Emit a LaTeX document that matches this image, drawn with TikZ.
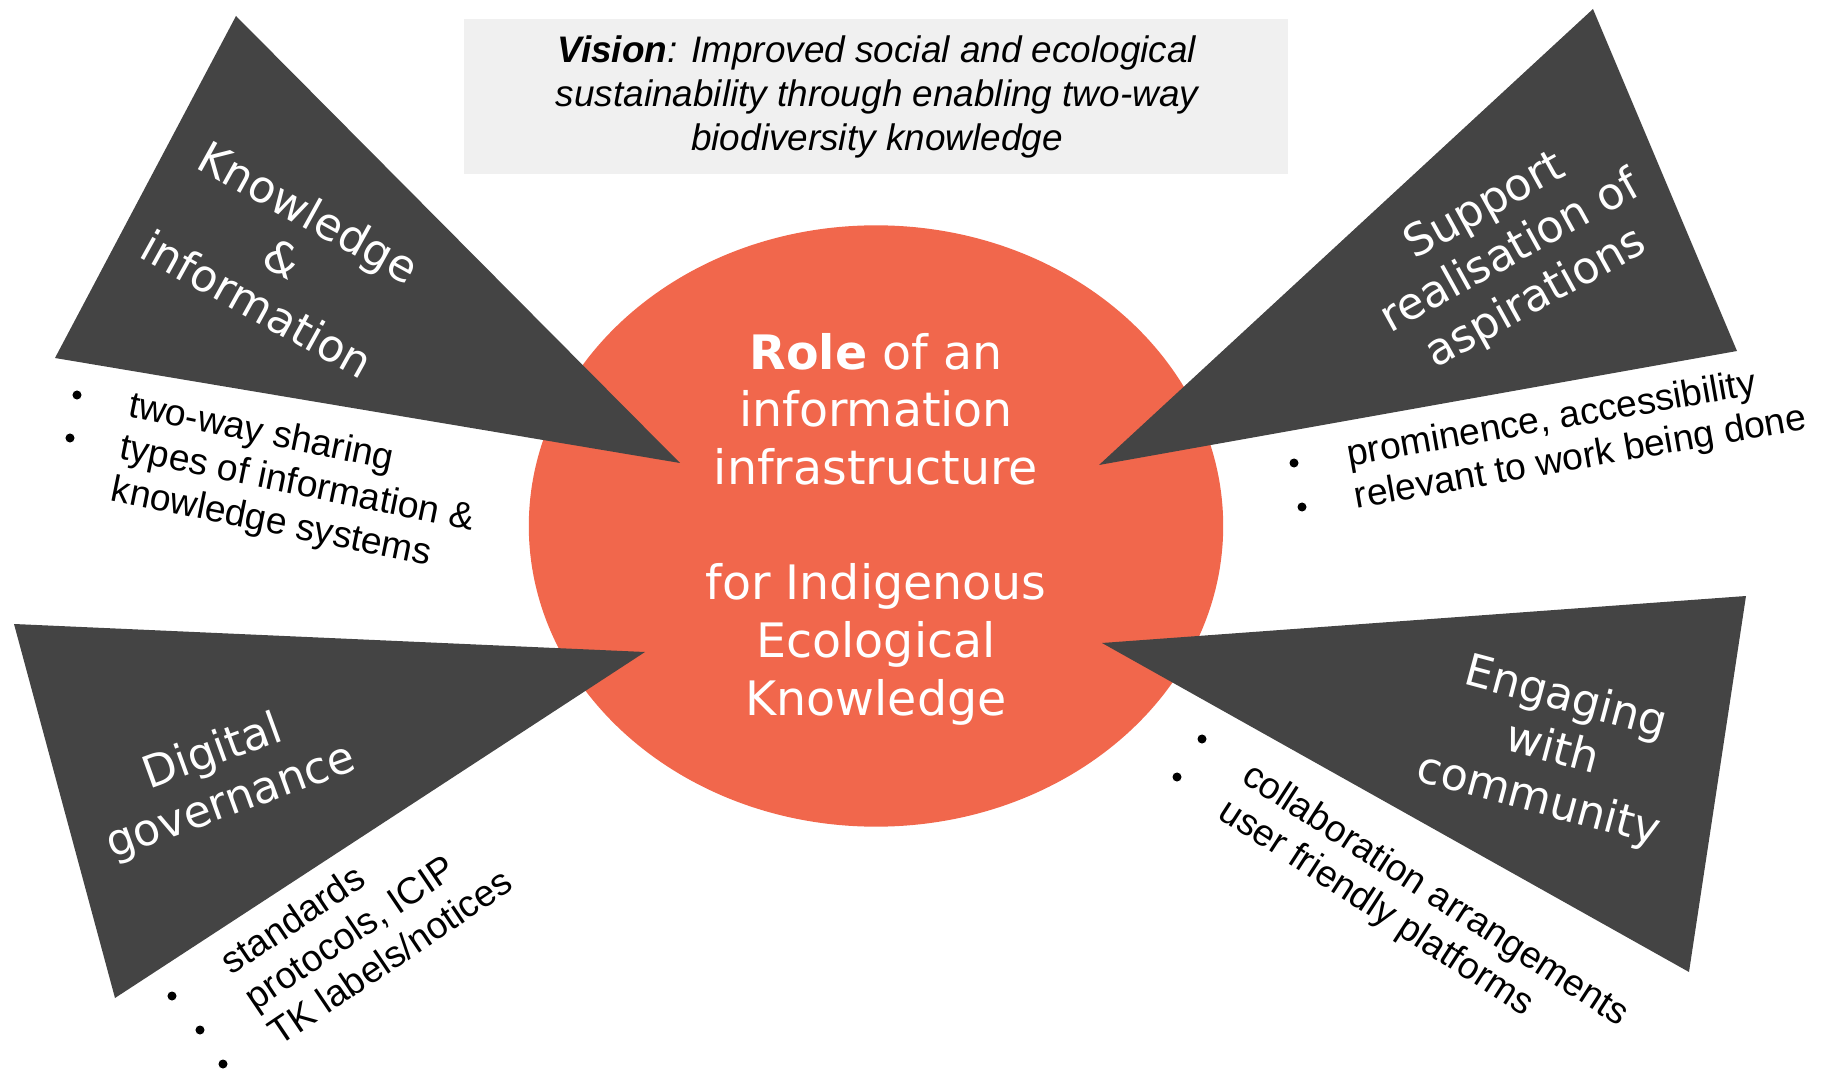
\documentclass[tikz,border=0pt]{standalone}
\usepackage{fontspec}
\setmainfont{Liberation Sans}
\newfontfamily\dejavu{DejaVu Sans}
\usepackage{tikz}
\usetikzlibrary{shapes.geometric}
\definecolor{roleorange}{RGB}{241,103,76}
\definecolor{wedgegray}{RGB}{68,68,68}
\definecolor{visiongray}{RGB}{240,240,240}

\begin{document}
\begin{tikzpicture}[x=0.01cm,y=-0.01cm,
    wedge/.style={fill=wedgegray},
    wedgelabel/.style={text=white,align=center,inner sep=0pt,font=\dejavu\fontsize{12.6}{15}\selectfont},
    pointlist/.style={align=left,inner sep=0pt,font=\fontsize{10.6}{12.2}\selectfont},
    listdot/.style={circle,fill=black,inner sep=0pt,minimum size=0.9mm}]
  \useasboundingbox (0,0) rectangle (1823,1073);
  % Vision box
  \fill[visiongray] (464,19) rectangle (1288,174);
  \node[align=center,font=\itshape\fontsize{10.5}{12.5}\selectfont] (vision) at (877,97)
    {\textbf{Vision}: Improved social and ecological\\sustainability through enabling two-way\\biodiversity knowledge};
  % Centre
  \node[ellipse,fill=roleorange,minimum width=6.94cm,minimum height=6.01cm,inner sep=0pt] (role) at (876,526) {};
  \node[text=white,align=center,font=\dejavu\fontsize{13.5}{16.4}\selectfont] (roletext) at (876,529)
    {\textbf{Role} of an\\information\\infrastructure\\[16.4pt]for Indigenous\\Ecological\\Knowledge};
  % First wedge
  \fill[wedge] (236,16) -- (55,358) -- (680,463) -- cycle;
  \node[wedgelabel,rotate=-29] (knowinfo) at (283,258) {Knowledge\\\&\\information};
  % Second wedge
  \fill[wedge] (1593,9) -- (1737,351) -- (1099,465) -- cycle;
  \node[wedgelabel,rotate=29] (support) at (1511,253) {Support\\realisation of\\aspirations};
  % Third wedge
  \fill[wedge] (14,624) -- (645,652) -- (115,998) -- cycle;
  \node[wedgelabel,rotate=20] (digital) at (222,778) {Digital\\governance};
  % Fourth wedge
  \fill[wedge] (1746,596) -- (1102,643) -- (1689,972) -- cycle;
  \node[wedgelabel,rotate=-15] (engaging) at (1552,750) {Engaging\\with\\community};
  % Bullet lists
  \node[pointlist,rotate=-11.5] (knowlist) at (297,485) {two-way sharing\\types of information \&\\knowledge systems};
  \node[listdot] (kdot1) at (77,395) {};
  \node[listdot] (kdot2) at (70,438) {};
  \node[pointlist,rotate=10] (supportlist) at (1577,438) {prominence, accessibility\\relevant to work being done};
  \node[listdot] (sdot1) at (1294,463) {};
  \node[listdot] (sdot2) at (1302,507) {};
  \node[pointlist,rotate=34] (digitallist) at (366,921) {standards\\protocols, ICIP\\TK labels/notices};
  \node[listdot] (ddot1) at (172,996) {};
  \node[listdot] (ddot2) at (200,1030) {};
  \node[listdot] (ddot3) at (223,1064) {};
  \node[pointlist,rotate=-33] (engaginglist) at (1423,914) {collaboration arrangements\\user friendly platforms};
  \node[listdot] (edot1) at (1202,739) {};
  \node[listdot] (edot2) at (1177,777) {};
\end{tikzpicture}
\end{document}
